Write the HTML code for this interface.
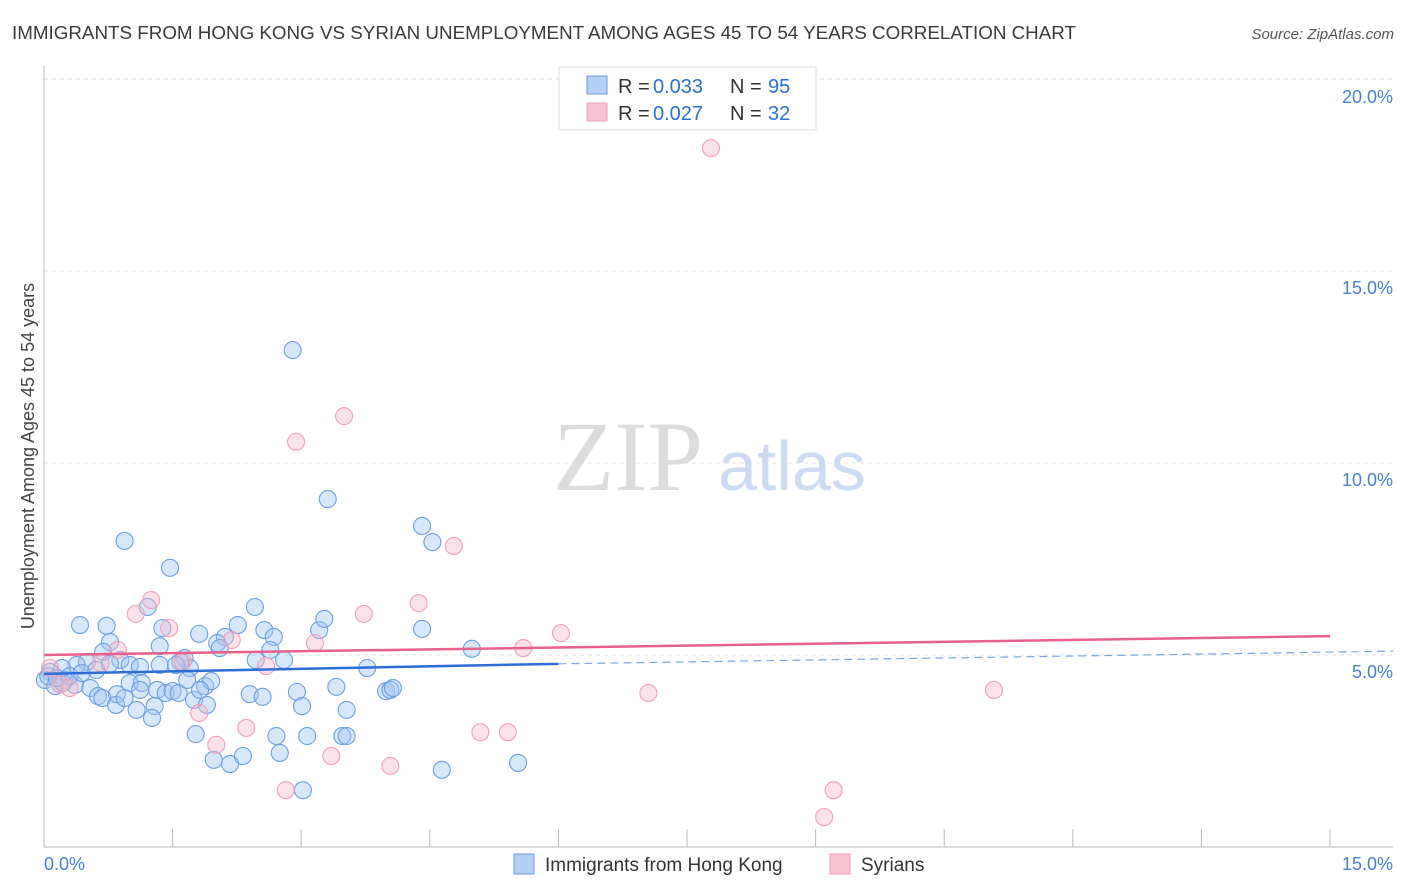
<!DOCTYPE html>
<html><head><meta charset="utf-8"><style>
body{margin:0;background:#fff;font-family:"Liberation Sans",sans-serif;}
svg{display:block}
</style></head><body>
<svg id="chart" width="1406" height="892"></svg>
<script>
const blueX=[2.90,3.31,4.41,4.53,0.94,1.47,0.42,0.73,1.21,1.38,0.77,1.35,1.81,2.11,2.26,2.46,2.57,2.68,2.47,2.64,2.80,3.21,3.27,2.02,1.64,1.70,1.59,0.69,0.89,1.00,1.12,0.50,0.38,0.21,0.07,0.01,0.13,0.24,0.36,0.54,0.63,0.85,0.68,1.00,1.14,1.32,1.42,1.50,1.57,1.29,1.08,1.26,0.84,1.67,1.88,1.95,1.75,1.90,2.40,2.55,2.95,3.01,3.41,3.53,3.77,3.99,4.04,4.07,4.41,4.99,1.77,1.98,2.17,2.32,2.71,2.75,3.07,3.48,3.53,3.02,4.64,5.53,0.22,0.05,0.15,0.30,0.44,0.61,0.77,1.12,0.94,1.35,1.54,1.82,2.05];
const blueY=[12.94,9.06,8.36,7.94,7.97,7.27,5.78,5.76,6.25,5.70,5.34,5.23,5.55,5.47,5.78,6.25,5.65,5.47,4.87,5.13,4.87,5.65,5.94,5.31,4.92,4.66,4.82,5.08,4.87,4.74,4.69,4.82,4.74,4.66,4.56,4.35,4.19,4.35,4.22,4.14,3.93,3.98,3.88,4.27,4.27,4.09,4.01,4.06,4.01,3.67,3.57,3.36,3.70,4.35,4.19,4.32,3.83,3.70,3.98,3.91,4.04,3.67,4.17,3.57,4.66,4.06,4.09,4.14,5.68,5.16,2.94,2.27,2.16,2.37,2.89,2.45,2.89,2.89,2.89,1.48,2.01,2.19,4.27,4.45,4.40,4.45,4.53,4.61,4.77,4.09,3.88,4.74,4.74,4.09,5.18];
const pinkX=[7.78,3.50,2.94,4.78,1.25,1.07,1.46,3.73,4.37,6.03,5.59,2.19,3.16,0.86,1.62,2.59,0.66,0.07,0.19,0.30,7.05,11.08,1.81,2.36,5.09,5.41,2.01,3.35,4.04,2.82,9.21,9.10];
const pinkY=[18.20,11.22,10.55,7.84,6.43,6.07,5.70,6.07,6.35,5.57,5.18,5.39,5.31,5.13,4.82,4.71,4.79,4.66,4.24,4.14,4.01,4.09,3.49,3.10,2.99,2.99,2.66,2.37,2.11,1.48,1.48,0.78];
const yTicks=[5,10,15,20];
const yTickLabels=["5.0%","10.0%","15.0%","20.0%"];
const blueTrend=[4.51,4.77,5.10];
const pinkTrend=[5.00,5.49];

const X0=44,PXX=1286/15,Y0=847,PXY=192/5;
const sx=v=>X0+v*PXX, sy=v=>Y0-v*PXY;
const svg=document.getElementById('chart');
const NS='http://www.w3.org/2000/svg';
function mk(t,a,txt){const e=document.createElementNS(NS,t);for(const k in a)e.setAttribute(k,a[k]);if(txt!=null)e.textContent=txt;svg.appendChild(e);return e;}

let e=mk('text',{x:12,y:39,'font-size':18.6,fill:'#3a3a3a',textLength:1064,lengthAdjust:'spacingAndGlyphs'},'IMMIGRANTS FROM HONG KONG VS SYRIAN UNEMPLOYMENT AMONG AGES 45 TO 54 YEARS CORRELATION CHART');


e=mk('text',{x:1394,y:39,'font-size':15,fill:'#555','font-style':'italic','text-anchor':'end'},'Source: ZipAtlas.com');



mk('line',{x1:44,x2:1393,y1:79,y2:79,stroke:'#ddd','stroke-dasharray':'4,4'});
yTicks.forEach((t,i)=>{
 if(t<20){const g=mk('line',{x1:44,x2:1393,y1:sy(t),y2:sy(t),stroke:'#e2e2e2','stroke-dasharray':'4,4'});
 
 }
 const l=mk('text',{x:1393,y:sy(t)+(t==20?24:23),'font-size':18,fill:'#4a7fd4','text-anchor':'end'},yTickLabels[i]);
 
 
});
mk('line',{x1:44,x2:44,y1:66,y2:847,stroke:'#bbb'});
e=mk('line',{x1:44,x2:1393,y1:847,y2:847,stroke:'#bbb'});


for(let i=0;i<=10;i++){mk('line',{x1:sx(i*1.5),x2:sx(i*1.5),y1:829,y2:847,stroke:'#bbb'});}
e=mk('text',{x:44,y:870,'font-size':18,fill:'#4a7fd4'},'0.0%');


e=mk('text',{x:1393,y:870,'font-size':18,fill:'#4a7fd4','text-anchor':'end'},'15.0%');


e=mk('text',{x:34,y:456,'font-size':18,fill:'#444','text-anchor':'middle',transform:'rotate(-90 34 456)'},'Unemployment Among Ages 45 to 54 years');



e=mk('text',{x:553,y:490,'font-size':100,fill:'#dcdcdc','font-family':'Liberation Serif,serif'},'ZIP');


mk('text',{x:718,y:490,'font-size':70,fill:'#cddcf2'},'atlas');

blueX.forEach((v,i)=>{const c=mk('circle',{cx:sx(v),cy:sy(blueY[i]),r:8.5,fill:'rgba(160,198,242,0.42)',stroke:'#6d9fe0','stroke-width':1.1});

});
pinkX.forEach((v,i)=>{const c=mk('circle',{cx:sx(v),cy:sy(pinkY[i]),r:8.5,fill:'rgba(246,186,205,0.42)',stroke:'#eea2ba','stroke-width':1.1});

});

e=mk('line',{x1:sx(0),y1:sy(blueTrend[0]),x2:sx(6),y2:sy(blueTrend[1]),stroke:'#2a6fd6','stroke-width':2.5});


e=mk('line',{x1:sx(6),y1:sy(blueTrend[1]),x2:1393,y2:sy(blueTrend[2]),stroke:'#7aa6e0','stroke-width':1.2,'stroke-dasharray':'8,5'});


e=mk('line',{x1:sx(0),y1:sy(pinkTrend[0]),x2:sx(15),y2:sy(pinkTrend[1]),stroke:'#e8608a','stroke-width':2.5});



e=mk('rect',{x:559,y:67,width:257,height:63,fill:'#fff',stroke:'#ddd'});


mk('rect',{x:587,y:76,width:20,height:18,fill:'#b4d0f4',stroke:'#6a9ad8'});
mk('rect',{x:587,y:103,width:20,height:18,fill:'#f8c4d4',stroke:'#eaa0b8'});
[[93,'0.033','95'],[120,'0.027','32']].forEach(r=>{
 let t=mk('text',{x:618,y:r[0],'font-size':20,fill:'#333'},'R =');
 
 
 t=mk('text',{x:653,y:r[0],'font-size':20,fill:'#2a6fd6'},r[1]);
 
 
 t=mk('text',{x:730,y:r[0],'font-size':20,fill:'#333'},'N =');
 
 
 t=mk('text',{x:768,y:r[0],'font-size':20,fill:'#2a6fd6'},r[2]);
 
 
});

mk('rect',{x:514,y:854,width:20,height:20,fill:'#b4d0f4',stroke:'#6a9ad8'});
e=mk('text',{x:545,y:871,'font-size':19,fill:'#333'},'Immigrants from Hong Kong');


mk('rect',{x:830,y:854,width:20,height:20,fill:'#f8c4d4',stroke:'#eaa0b8'});
e=mk('text',{x:861,y:871,'font-size':19,fill:'#333'},'Syrians');


</script>
</body></html>
